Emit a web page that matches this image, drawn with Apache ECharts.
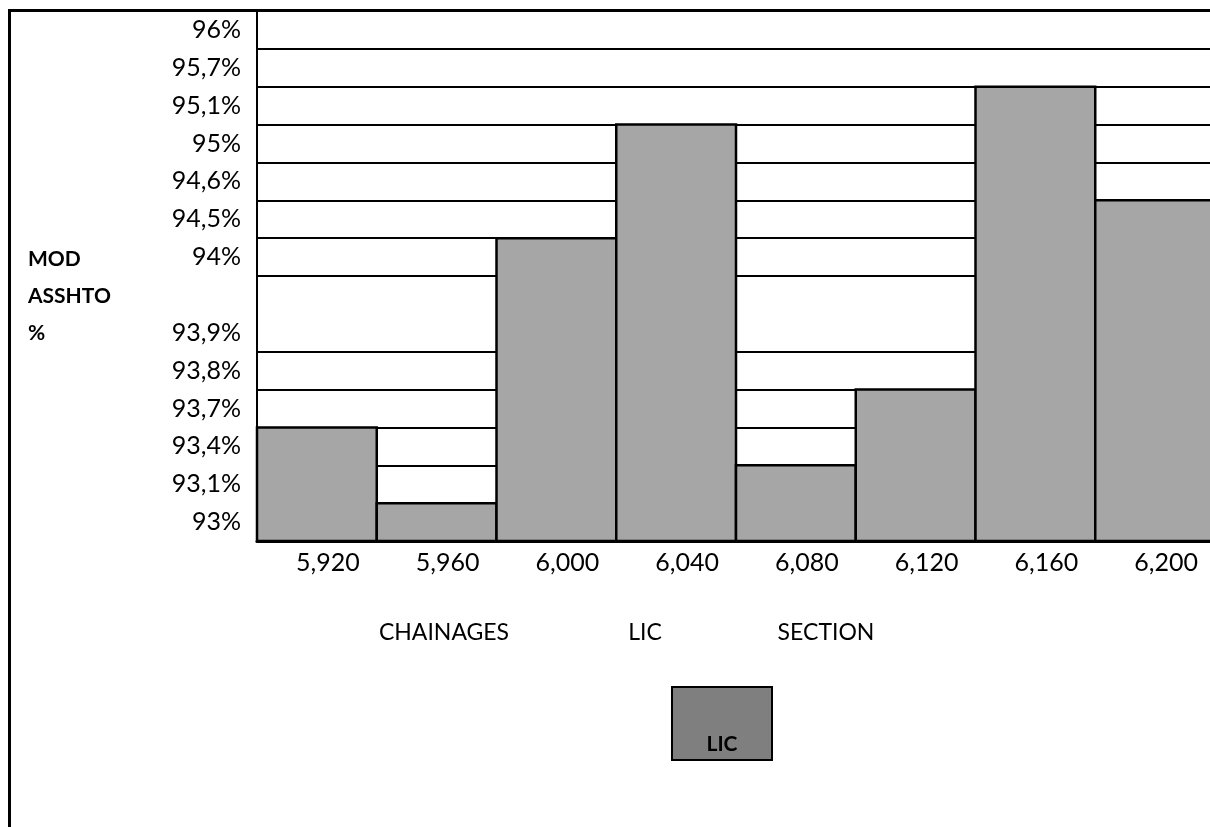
<!DOCTYPE html>
<html>
<head>
<meta charset="utf-8">
<title>MOD ASSHTO % - LIC</title>
<script src="https://cdn.jsdelivr.net/npm/echarts@6/dist/echarts.min.js"></script>
<style>
  html, body { margin: 0; padding: 0; background: #ffffff; }
  #chart { width: 1210px; height: 827px; }
</style>
</head>
<body>
<div id="chart"></div>
<script>
// Chainages along the LIC section
const chainages = ['5,920', '5,960', '6,000', '6,040', '6,080', '6,120', '6,160', '6,200'];

// MOD ASSHTO compaction (%) at each chainage
const licValues = [93.4, 93.0, 94.0, 95.0, 93.1, 93.7, 95.1, 94.5];

// Ordered levels shown on the vertical scale, bottom to top ('' = unlabelled band)
const levelValues = [93.0, 93.1, 93.4, 93.7, 93.8, 93.9, null, 94.0, 94.5, 94.6, 95.0, 95.1, 95.7, 96.0];
const levelLabels = ['93%', '93,1%', '93,4%', '93,7%', '93,8%', '93,9%', '', '94%', '94,5%', '94,6%', '95%', '95,1%', '95,7%', '96%'];

const seriesName = 'LIC';
const axisTitleY = 'MOD\nASSHTO\n%';
const axisTitleX = ['CHAINAGES', 'LIC', 'SECTION'];

const FONT = 'Lato, "Open Sans", "Liberation Sans", sans-serif';

// Each value is placed on the ordinal scale: its column reaches the top of its own band
const barData = licValues.map(function (v, i) {
  return [i, levelValues.indexOf(v) + 1, v];
});

const chart = echarts.init(document.getElementById('chart'), null, { renderer: 'canvas' });

chart.setOption({
  animation: false,
  backgroundColor: '#ffffff',
  textStyle: { fontFamily: FONT },
  grid: { left: 257, top: 11, width: 958, height: 530, containLabel: false, outerBoundsMode: 'none' },
  xAxis: {
    type: 'category',
    data: chainages,
    boundaryGap: true,
    axisLine: { show: true, lineStyle: { color: '#000', width: 3 } },
    axisTick: { show: false },
    axisLabel: { fontSize: 25, color: '#000', margin: 9, padding: [0, 0, 0, 22], fontFamily: FONT },
    splitLine: { show: false }
  },
  yAxis: [
    {
      type: 'value',
      position: 'left',
      min: 0,
      max: levelLabels.length,
      interval: 1,
      show: false
    },
    {
      type: 'category',
      position: 'left',
      data: levelLabels,
      boundaryGap: true,
      axisLine: { show: true, lineStyle: { color: '#000', width: 2 } },
      axisTick: { show: false },
      axisLabel: { fontSize: 25, color: '#000', margin: 16, interval: 0, fontFamily: FONT },
      splitLine: {
        show: true,
        interval: function (index) { return index !== 6; },
        lineStyle: { color: '#000', width: 2 }
      }
    }
  ],
  series: [
    {
      // full-width columns whose outlines are shared with their neighbours
      name: seriesName,
      type: 'custom',
      xAxisIndex: 0,
      yAxisIndex: 0,
      data: barData,
      encode: { x: 0, y: 1 },
      renderItem: function (params, api) {
        const top = api.coord([api.value(0), api.value(1)]);
        const base = api.coord([api.value(0), 0]);
        const w = api.size([1, 0])[0];
        return {
          type: 'rect',
          shape: { x: top[0] - w / 2, y: top[1], width: w, height: base[1] - top[1] },
          style: { fill: '#a6a6a6', stroke: '#000', lineWidth: 2.5 }
        };
      }
    }
  ],
  graphic: [
    // outer frame (top and left edges)
    { type: 'line', z: 100, shape: { x1: 8, y1: 10.5, x2: 1210, y2: 10.5 }, style: { stroke: '#000', lineWidth: 3 } },
    { type: 'line', z: 100, shape: { x1: 9.5, y1: 9, x2: 9.5, y2: 827 }, style: { stroke: '#000', lineWidth: 3 } },
    // vertical axis title
    {
      type: 'text', left: 28, top: 241,
      style: { text: axisTitleY, fontFamily: FONT, fontSize: 21, fontWeight: 'bold', lineHeight: 37, fill: '#000' }
    },
    // horizontal axis title
    { type: 'text', x: 444, y: 633, style: { text: axisTitleX[0], fontFamily: FONT, fontSize: 23, fill: '#000', align: 'center', verticalAlign: 'middle' } },
    { type: 'text', x: 645, y: 633, style: { text: axisTitleX[1], fontFamily: FONT, fontSize: 23, fill: '#000', align: 'center', verticalAlign: 'middle' } },
    { type: 'text', x: 826, y: 633, style: { text: axisTitleX[2], fontFamily: FONT, fontSize: 23, fill: '#000', align: 'center', verticalAlign: 'middle' } },
    // legend key
    {
      type: 'group', x: 672, y: 687,
      children: [
        { type: 'rect', shape: { x: 0, y: 0, width: 100, height: 73 }, style: { fill: '#7f7f7f', stroke: '#000', lineWidth: 2 } },
        { type: 'text', x: 50, y: 57, style: { text: seriesName, fontFamily: FONT, fontSize: 21, fontWeight: 'bold', fill: '#000', align: 'center', verticalAlign: 'middle' } }
      ]
    }
  ]
});
</script>
</body>
</html>
